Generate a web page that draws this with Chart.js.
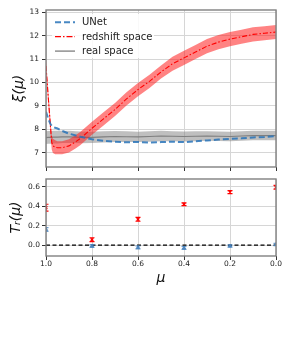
<!DOCTYPE html>
<html><head><meta charset="utf-8">
<script src="https://cdn.jsdelivr.net/npm/chart.js@4.4.0/dist/chart.umd.min.js"></script>
<style>
html,body{margin:0;padding:0;background:#fff;width:291px;height:349px;overflow:hidden}
canvas{position:absolute;left:0}
#top{top:0}
#bot{top:170px}
</style></head><body>
<canvas id="top" width="291" height="175"></canvas>
<canvas id="bot" width="291" height="179"></canvas>
<script>
// ---- data ----
const muCurve      = [1.00,0.99,0.98,0.975,0.97,0.96,0.95,0.93,0.90,0.87,0.85,0.80,0.75,0.70,0.65,0.60,0.55,0.50,0.45,0.40,0.35,0.30,0.25,0.20,0.15,0.10,0.05,0.00];
const xiRedshift   = [10.7,9.35,8.05,7.45,7.3,7.24,7.22,7.22,7.3,7.48,7.62,8.05,8.45,8.85,9.3,9.7,10.05,10.45,10.8,11.05,11.3,11.55,11.72,11.85,11.95,12.05,12.1,12.15];
const xiRedshiftErr= [0.3,0.3,0.3,0.3,0.3,0.3,0.28,0.28,0.28,0.28,0.28,0.28,0.28,0.28,0.28,0.28,0.28,0.28,0.3,0.3,0.3,0.3,0.3,0.3,0.3,0.3,0.3,0.3];
const xiUNet       = [8.75,8.45,8.22,8.16,8.12,8.07,8.04,7.94,7.82,7.74,7.69,7.58,7.52,7.48,7.45,7.47,7.44,7.46,7.48,7.46,7.5,7.53,7.57,7.6,7.62,7.66,7.68,7.72];
const xiReal       = [7.65,7.66,7.66,7.66,7.67,7.67,7.67,7.68,7.68,7.67,7.66,7.66,7.68,7.7,7.69,7.68,7.7,7.72,7.71,7.7,7.71,7.72,7.71,7.7,7.72,7.74,7.74,7.74];
const xiRealErr    = [0.27,0.27,0.27,0.27,0.27,0.27,0.27,0.26,0.26,0.25,0.25,0.24,0.24,0.23,0.23,0.22,0.22,0.22,0.21,0.21,0.21,0.2,0.2,0.2,0.2,0.2,0.2,0.2];

const muBins       = [1.0,0.8,0.6,0.4,0.2,0.0];
const trRedshift   = [0.385,0.055,0.265,0.42,0.545,0.595];
const trRedshiftErr= [0.035,0.02,0.02,0.015,0.015,0.02];
const trUNet       = [0.16,-0.01,-0.025,-0.03,-0.01,0.005];
const trUNetErr    = [0.02,0.015,0.015,0.015,0.012,0.012];
const zeroLine     = [0,0];
const zeroLineMu   = [1,0];

const xTicks   = [0,0.2,0.4,0.6,0.8,1.0];
const yTicksTop= [7,8,9,10,11,12,13];
const yTicksBot= [0.0,0.2,0.4,0.6];

const seriesNames = ['UNet','redshift space','real space'];

// ---- style ----
Chart.defaults.font.family = 'DejaVu Sans';
Chart.defaults.color = '#222';
const RED='#ff0000', BLUE='rgba(40,115,185,0.85)', GRAY='#7f7f7f';
const GRID='#d6d6d6';

const pts = (xs, ys) => xs.map((x,i)=>({x, y: ys[i]}));
const ptsOff = (xs, ys, es, s) => xs.map((x,i)=>({x, y: ys[i] + s*es[i]}));

const frame = {
  id:'frame',
  afterDraw(c){
    const {ctx, chartArea:a} = c;
    ctx.save();
    ctx.strokeStyle='#808080'; ctx.lineWidth=1.4;
    ctx.strokeRect(a.left, a.top, a.right-a.left, a.bottom-a.top);
    ctx.restore();
  }
};

function xScale(showLabels, h){
  return {
    type:'linear', min:0, max:1, reverse:true,
    afterBuildTicks: s => { s.ticks = xTicks.map(v=>({value:v})); },
    afterFit: s => { s.height = h; },
    grid:{color:GRID, lineWidth:1, tickLength:4, tickColor:'#333', tickWidth:1},
    border:{display:false},
    ticks:{display:showLabels, autoSkip:false, maxRotation:0, padding:0,
      font:{size:7.5}, callback:v=>Number(v).toFixed(1)},
    title: showLabels ? {display:true, text:'μ', font:{size:14, style:'italic'}, padding:0, color:'#111'} : {display:false}
  };
}

const legendPlugin = {
  id:'customLegend',
  afterDraw(c){
    const {ctx, chartArea:a} = c;
    ctx.save();
    ctx.fillStyle='rgba(255,255,255,0.85)';
    ctx.fillRect(a.left+6, a.top+4, 102, 44);
    const items = [
      {label:seriesNames[0], color:BLUE, dash:[6,3], w:2},
      {label:seriesNames[1], color:RED, dash:[6,2,1.5,2], w:1.3},
      {label:seriesNames[2], color:GRAY, dash:[], w:1.3}
    ];
    ctx.font='10px "DejaVu Sans"';
    ctx.textBaseline='middle';
    items.forEach((it,i)=>{
      const y = a.top + 12.3 + i*14.4;
      ctx.beginPath();
      ctx.setLineDash(it.dash);
      ctx.strokeStyle=it.color; ctx.lineWidth=it.w;
      ctx.moveTo(a.left+9, y); ctx.lineTo(a.left+29, y);
      ctx.stroke();
      ctx.setLineDash([]);
      ctx.fillStyle='#222';
      ctx.fillText(it.label, a.left+36, y+0.5);
    });
    ctx.restore();
  }
};

new Chart(document.getElementById('top'), {
  type:'scatter',
  data:{datasets:[
    {label:seriesNames[0], data:pts(muCurve, xiUNet), showLine:true, borderColor:BLUE, borderWidth:2, borderDash:[6,3], pointRadius:0, fill:false},
    {label:seriesNames[1], data:pts(muCurve, xiRedshift), showLine:true, borderColor:RED, borderWidth:1.1, borderDash:[5,2,1.5,2], pointRadius:0, fill:false},
    {label:'rs lo', data:ptsOff(muCurve, xiRedshift, xiRedshiftErr, -1), showLine:true, borderWidth:0, pointRadius:0, fill:3, backgroundColor:'rgba(255,30,30,0.55)'},
    {label:'rs hi', data:ptsOff(muCurve, xiRedshift, xiRedshiftErr, 1), showLine:true, borderWidth:0, pointRadius:0, fill:false},
    {label:seriesNames[2], data:pts(muCurve, xiReal), showLine:true, borderColor:GRAY, borderWidth:1.2, pointRadius:0, fill:false},
    {label:'rl lo', data:ptsOff(muCurve, xiReal, xiRealErr, -1), showLine:true, borderWidth:0, pointRadius:0, fill:6, backgroundColor:'rgba(128,128,128,0.5)'},
    {label:'rl hi', data:ptsOff(muCurve, xiReal, xiRealErr, 1), showLine:true, borderWidth:0, pointRadius:0, fill:false}
  ]},
  options:{
    responsive:false, animation:false, devicePixelRatio:1,
    layout:{padding:{top:10, right:15, left:0, bottom:0}},
    plugins:{legend:{display:false}, tooltip:{enabled:false}},
    scales:{
      x: xScale(false, 8),
      y:{
        min:6.4, max:13.09,
        afterBuildTicks: s => { s.ticks = yTicksTop.map(v=>({value:v})); },
        afterFit: s => { s.width = 46; },
        grid:{color:GRID, lineWidth:1, tickLength:4, tickColor:'#333'},
        border:{display:false},
        ticks:{font:{size:7.5}, padding:3},
        title:{display:true, text:'ξ(μ)', font:{size:14, style:'italic'}, padding:{top:11, bottom:0}, color:'#111'}
      }
    }
  },
  plugins:[frame, legendPlugin]
});

const errBars = [
  {xs:muBins, ys:trRedshift, es:trRedshiftErr, color:RED},
  {xs:muBins, ys:trUNet, es:trUNetErr, color:'rgba(70,130,190,0.8)'}
];
const errPlugin = {
  id:'errbars',
  afterDatasetsDraw(c){
    const {ctx, chartArea:a, scales} = c;
    ctx.save();
    ctx.beginPath(); ctx.rect(a.left, a.top, a.right-a.left, a.bottom-a.top); ctx.clip();
    errBars.forEach(b=>{
      ctx.strokeStyle=b.color; ctx.lineWidth=1.2;
      b.xs.forEach((x,i)=>{
        const px = scales.x.getPixelForValue(x);
        const y1 = scales.y.getPixelForValue(b.ys[i]-b.es[i]);
        const y2 = scales.y.getPixelForValue(b.ys[i]+b.es[i]);
        ctx.beginPath();
        ctx.moveTo(px, y1); ctx.lineTo(px, y2);
        ctx.moveTo(px-2.5, y1); ctx.lineTo(px+2.5, y1);
        ctx.moveTo(px-2.5, y2); ctx.lineTo(px+2.5, y2);
        ctx.stroke();
      });
    });
    ctx.restore();
  }
};

new Chart(document.getElementById('bot'), {
  type:'scatter',
  data:{datasets:[
    {label:seriesNames[1], data:pts(muBins, trRedshift), pointStyle:'crossRot', pointRadius:2, borderColor:RED, borderWidth:1.2, backgroundColor:RED},
    {label:seriesNames[0], data:pts(muBins, trUNet), pointStyle:'triangle', pointRadius:2, borderColor:'rgba(70,130,190,0.8)', backgroundColor:'rgba(70,130,190,0.8)', borderWidth:1},
    {label:'zero', data:pts(zeroLineMu, zeroLine), showLine:true, borderColor:'#000', borderWidth:1.3, borderDash:[4,2.5], pointRadius:0, fill:false}
  ]},
  options:{
    responsive:false, animation:false, devicePixelRatio:1,
    layout:{padding:{top:9, right:15, left:0, bottom:62}},
    plugins:{legend:{display:false}, tooltip:{enabled:false}},
    scales:{
      x: xScale(true, 31),
      y:{
        min:-0.113, max:0.68,
        afterBuildTicks: s => { s.ticks = yTicksBot.map(v=>({value:v})); },
        afterFit: s => { s.width = 46; },
        grid:{color:GRID, lineWidth:1, tickLength:4, tickColor:'#333'},
        border:{display:false},
        ticks:{font:{size:7.5}, padding:2, callback:v=>Number(v).toFixed(1)},
        title:{display:true, text:'Tᵣ(μ)', font:{size:14, style:'italic'}, padding:{top:8, bottom:0}, color:'#111'}
      }
    }
  },
  plugins:[frame, errPlugin]
});
</script>
</body></html>
